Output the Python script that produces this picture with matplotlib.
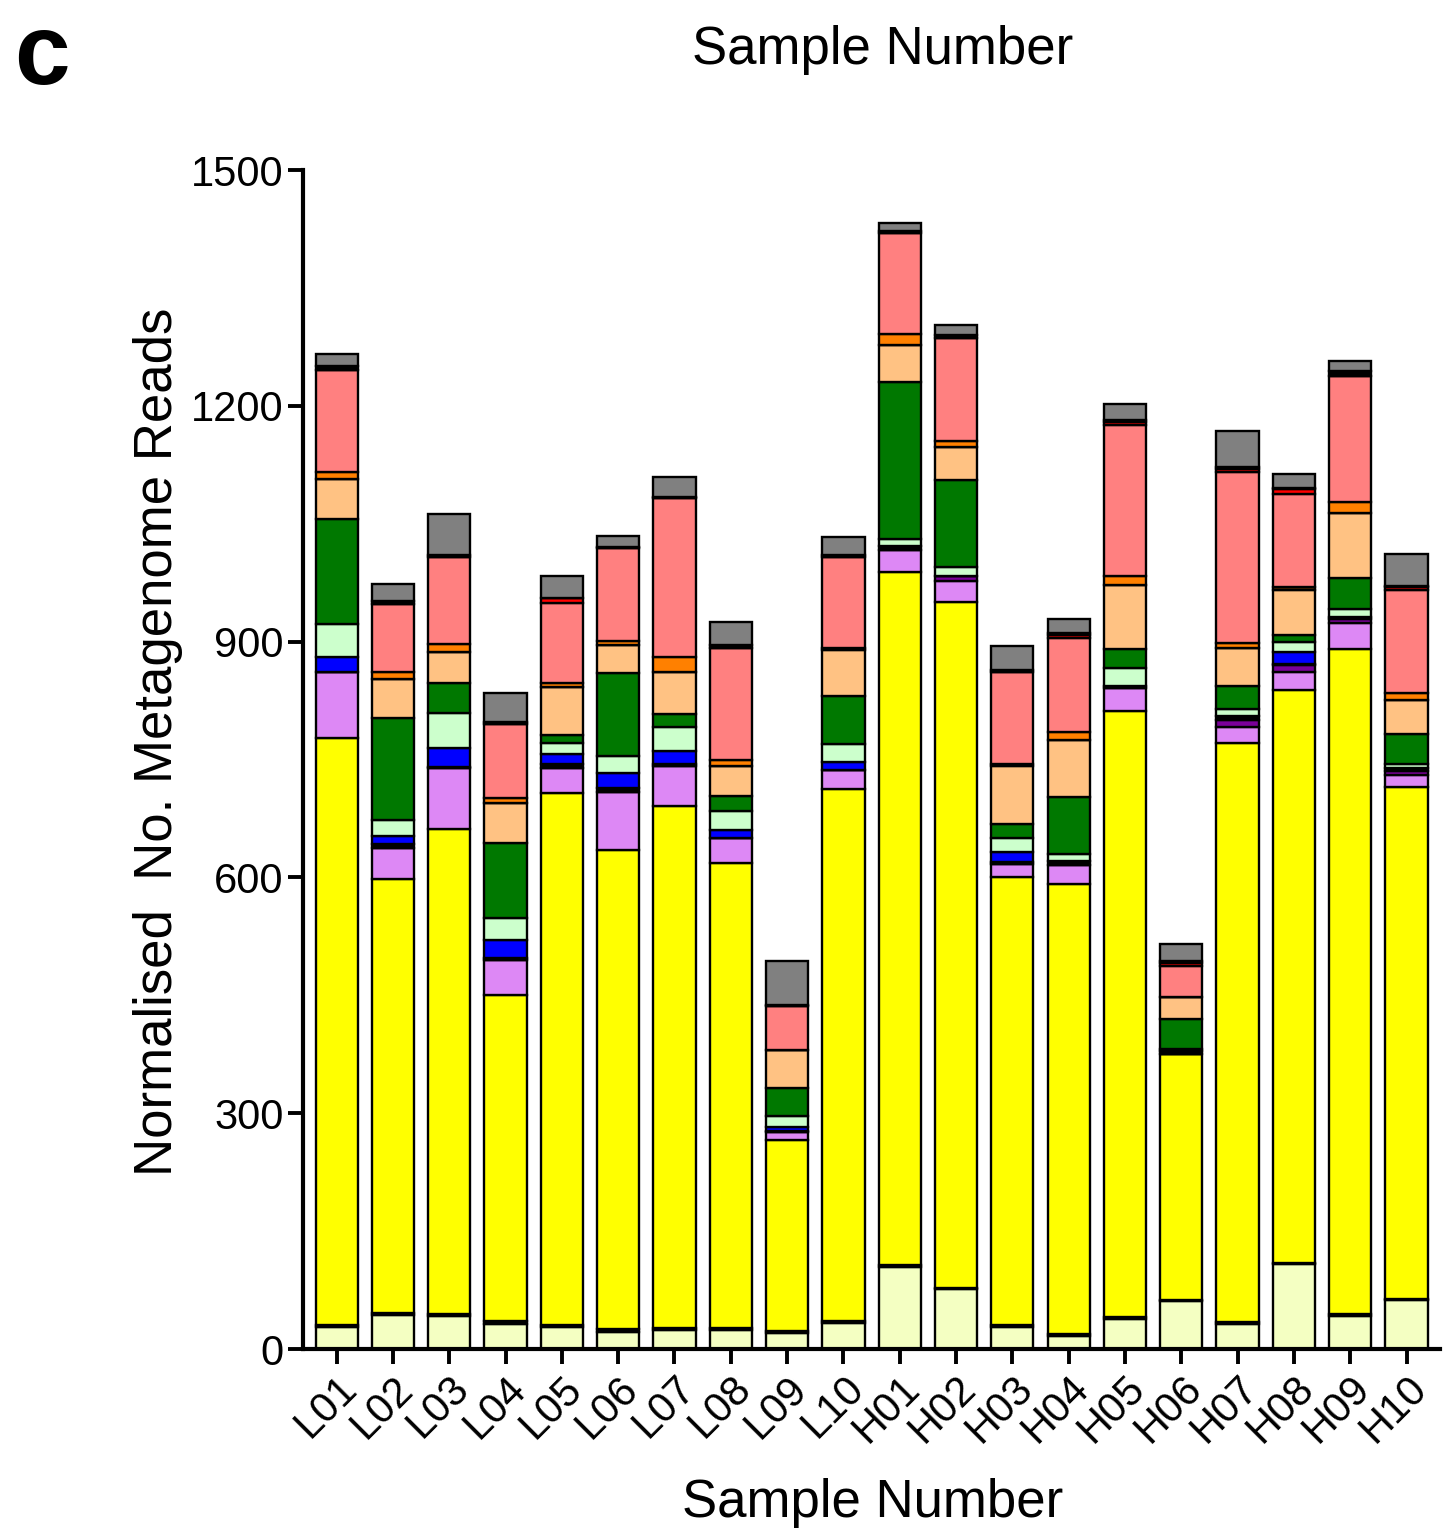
import numpy as np
import matplotlib
matplotlib.use("Agg")
import matplotlib.pyplot as plt

plt.rcParams["font.family"] = ["Liberation Sans", "DejaVu Sans"]

# ── Data ──────────────────────────────────────────────────────────────────
samples = ["L01", "L02", "L03", "L04", "L05", "L06", "L07", "L08", "L09", "L10",
           "H01", "H02", "H03", "H04", "H05", "H06", "H07", "H08", "H09", "H10"]

# segment values per sample, bottom to top of each bar
light_yellow = [28, 43, 42, 32, 28, 22, 24, 24, 20, 33, 105, 76, 28, 16, 38, 61, 32, 108, 42, 62]
black_a      = [3, 3, 2, 4, 3, 3, 3, 3, 3, 3, 2, 2, 3, 3, 3, 2, 3, 2, 3, 2]
yellow       = [747, 552, 618, 414, 676, 610, 664, 591, 243, 676, 882, 872, 569, 573, 771, 312, 736, 729, 846, 651]
violet       = [84, 39, 77, 45, 32, 74, 51, 32, 10, 25, 28, 27, 17, 24, 29, 0, 21, 22, 33, 16]
purple       = [0, 0, 0, 0, 0, 0, 0, 0, 0, 0, 0, 6, 0, 0, 0, 0, 8, 9, 5, 4]
black_b      = [0, 5, 2, 3, 6, 5, 3, 0, 2, 0, 5, 0, 3, 5, 3, 4, 5, 2, 3, 4]
blue         = [18, 11, 24, 22, 12, 19, 16, 10, 4, 10, 0, 0, 13, 0, 0, 3, 0, 15, 0, 0]
light_green  = [42, 20, 44, 28, 14, 21, 31, 24, 15, 23, 9, 12, 17, 9, 23, 0, 10, 12, 9, 6]
green        = [134, 130, 38, 96, 10, 106, 16, 20, 35, 61, 200, 111, 18, 73, 24, 38, 29, 9, 40, 38]
light_orange = [51, 50, 40, 51, 62, 36, 54, 38, 48, 58, 46, 42, 74, 72, 81, 28, 48, 58, 83, 43]
brown        = [0, 0, 0, 0, 0, 0, 0, 0, 0, 3, 0, 0, 3, 0, 0, 0, 0, 3, 0, 0]
orange       = [9, 8, 10, 6, 5, 5, 18, 7, 0, 0, 14, 7, 0, 10, 11, 0, 6, 0, 14, 9]
salmon       = [130, 87, 111, 94, 101, 118, 203, 143, 56, 116, 129, 131, 116, 120, 193, 40, 218, 119, 160, 131]
red          = [0, 0, 0, 0, 6, 0, 0, 0, 0, 0, 0, 0, 0, 3, 4, 3, 4, 6, 0, 3]
black_c      = [5, 4, 2, 3, 0, 2, 1, 4, 2, 2, 2, 4, 3, 3, 2, 3, 2, 2, 7, 2]
gray         = [15, 21, 52, 37, 28, 13, 26, 29, 56, 23, 11, 13, 30, 18, 21, 21, 46, 17, 12, 40]

layers = [
    (light_yellow, "#F4FFC2"),
    (black_a,      "#000000"),
    (yellow,       "#FFFF00"),
    (violet,       "#DD88F5"),
    (purple,       "#7A0099"),
    (black_b,      "#000000"),
    (blue,         "#0000FF"),
    (light_green,  "#CCFFCC"),
    (green,        "#007800"),
    (light_orange, "#FFC283"),
    (brown,        "#7F3F00"),
    (orange,       "#FF8000"),
    (salmon,       "#FF8080"),
    (red,          "#FF0000"),
    (black_c,      "#000000"),
    (gray,         "#808080"),
]

# ── Figure ────────────────────────────────────────────────────────────────
fig = plt.figure(figsize=(14.49, 15.33), dpi=100)
ax = fig.add_axes([0.209, 0.120, 0.785, 0.769])

x = np.arange(len(samples))
bottom = np.zeros(len(samples))
for vals, col in layers:
    vals = np.array(vals, dtype=float)
    ax.bar(x, vals, width=0.75, bottom=bottom, color=col,
           edgecolor="black", linewidth=1.7)
    bottom += vals

ax.set_xlim(-0.6, 19.6)
ax.set_ylim(0, 1500)
ax.set_yticks([0, 300, 600, 900, 1200, 1500])
ax.set_xticks(x)
ax.set_xticklabels(samples, rotation=45, ha="right", rotation_mode="anchor")

for side in ["top", "right"]:
    ax.spines[side].set_visible(False)
for side in ["left", "bottom"]:
    ax.spines[side].set_linewidth(3.0)

ax.tick_params(axis="both", which="major", length=11, width=2.8,
               labelsize=30, pad=3)

# text outside the axes
fig.text(0.010, 1 - 58 / 1533, "c", fontsize=72, fontweight="bold",
         ha="left", va="center")
fig.text(883 / 1449, 1 - 50 / 1533, "Sample Number", fontsize=38,
         ha="center", va="center")
fig.text(873 / 1449, 1 - 1503 / 1533, "Sample Number", fontsize=38,
         ha="center", va="center")
fig.text(158 / 1449, 1 - 742 / 1533, "Normalised  No. Metagenome Reads",
         fontsize=38, rotation=90, ha="center", va="center")

fig.savefig("out.png", dpi=100)
